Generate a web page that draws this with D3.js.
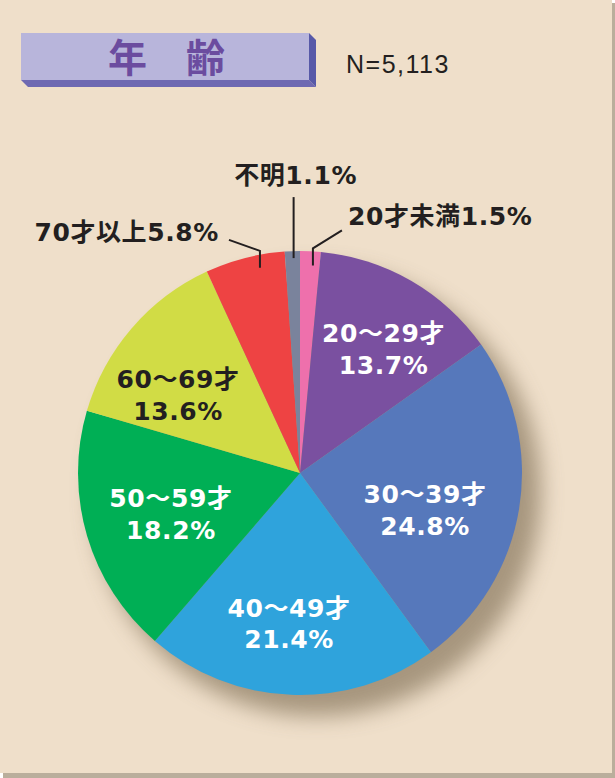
<!DOCTYPE html>
<html>
<head>
<meta charset="utf-8">
<script src="https://cdn.jsdelivr.net/npm/d3@7"></script>
<style>
    body { margin: 0; background: #ffffff; }
    svg { display: block; }
    text { font-family: "Liberation Sans", "Noto Sans CJK JP", sans-serif; }
    text.lbl { font-family: "DejaVu Sans", "Noto Sans CJK JP", sans-serif; }
</style>
</head>
<body>
<svg id="chart" width="615" height="778"></svg>
<script>
/**
 * Chart data
 */
var title = "年　齢";
var sampleSize = "N=5,113";
var categories = ["20才未満", "20～29才", "30～39才", "40～49才", "50～59才", "60～69才", "70才以上", "不明"];
var values = [1.5, 13.7, 24.8, 21.4, 18.2, 13.6, 5.8, 1.1];
var colors = ["#ee70ac", "#7a50a0", "#5678bb", "#2fa3dc", "#00af55", "#d1dc45", "#ee4343", "#7a839c"];

// which slices get an outside label with a leader line
var outside = ["20才未満", "70才以上", "不明"];

/**
 * Layout
 */
var width = 615, height = 778;
var cx = 300, cy = 473, radius = 222;
var labelR = 145;

// fine tuning of inside labels (block centre offset from centroid)
var nudge = {
    "20～29才": [11, 1],
    "30～39才": [-18, 13],
    "40～49才": [-5, 5],
    "50～59才": [10, -1],
    "60～69才": [-12, 16]
};
// leader lines: t = position within slice, r = start radius,
// rise = straight part, end = diagonal part, text offset from end
var leaders = {
    "20才未満": {t: 0.66, r: 208, rise: 17, end: [29, -18], anchor: "start", text: [6, -5]},
    "70才以上": {t: 0.66, r: 209, rise: 17, end: [-31, -11], anchor: "end", text: [-10, 1]},
    "不明":     {t: 0.57, r: 215, rise: 61, end: [0, 0], anchor: "middle", text: [2, -13]}
};

window.onload = function(){
    drawPanel();
    drawTitle();
    drawPie();
};

function drawPanel(){
    let svg = d3.select("#chart");
    svg.append("rect")
        .attr("x", 3).attr("y", 3)
        .attr("width", width - 3).attr("height", height - 3)
        .attr("fill", "#baae9c");
    svg.append("rect")
        .attr("x", 0).attr("y", 0)
        .attr("width", 612).attr("height", 773)
        .attr("fill", "#efdfca");
}

function drawTitle(){
    let svg = d3.select("#chart");
    let g = svg.append("g");
    let x0 = 21, y0 = 33, x1 = 309, y1 = 80, d = 7;

    g.append("polygon")
        .attr("points", [[x0, y1], [x1, y1], [x1 + d, y1 + d], [x0 + d, y1 + d]].join(" "))
        .attr("fill", "#6e69b2");
    g.append("polygon")
        .attr("points", [[x1, y0], [x1 + d, y0 + d], [x1 + d, y1 + d], [x1, y1]].join(" "))
        .attr("fill", "#5759a8");
    g.append("rect")
        .attr("x", x0).attr("y", y0)
        .attr("width", x1 - x0).attr("height", y1 - y0)
        .attr("fill", "#b8b5db");

    g.append("text")
        .attr("x", 108).attr("y", 72)
        .attr("fill", "#6b4c9f")
        .style("font-family", "'Noto Sans CJK JP', sans-serif")
        .style("font-size", "39px")
        .style("font-weight", "bold")
        .text(title);

    svg.append("text")
        .attr("x", 346).attr("y", 73)
        .attr("fill", "#231f20")
        .style("font-size", "25px")
        .style("letter-spacing", "1.5px")
        .text(sampleSize);
}

function drawPie(){
    let svg = d3.select("#chart");
    let data = categories.map(function(c, i){
        return {name: c, value: values[i], color: colors[i]};
    });

    // soft shadow behind the pie
    let defs = svg.append("defs");
    let filter = defs.append("filter")
        .attr("id", "blur")
        .attr("x", "-30%").attr("y", "-30%")
        .attr("width", "160%").attr("height", "160%");
    filter.append("feGaussianBlur").attr("stdDeviation", 11);

    svg.append("circle")
        .attr("cx", cx + 17).attr("cy", cy + 19)
        .attr("r", radius + 2)
        .attr("fill", "#94836a")
        .attr("opacity", 0.8)
        .attr("filter", "url(#blur)");

    let pie = d3.pie()
        .sort(null)
        .value(function(d){ return d.value; });
    let arcs = pie(data);

    let arc = d3.arc().innerRadius(0).outerRadius(radius);
    let labelArc = d3.arc().innerRadius(labelR).outerRadius(labelR);

    let g = svg.append("g").attr("transform", `translate(${cx},${cy})`);

    g.selectAll("path")
        .data(arcs)
        .enter()
        .append("path")
        .attr("d", arc)
        .attr("fill", function(d){ return d.data.color; });

    // inside labels
    let inside = arcs.filter(function(d){ return outside.indexOf(d.data.name) < 0; });
    let labels = g.selectAll("g.label")
        .data(inside)
        .enter()
        .append("g")
        .attr("class", "label")
        .attr("transform", function(d){
            let c = labelArc.centroid(d);
            let n = nudge[d.data.name] || [0, 0];
            return `translate(${c[0] + n[0]},${c[1] + n[1]})`;
        });

    labels.each(function(d){
        let sel = d3.select(this);
        let fill = d.data.name === "60～69才" ? "#231f20" : "#ffffff";
        sel.append("text")
            .attr("y", -6)
            .text(d.data.name);
        sel.append("text")
            .attr("y", 25.5)
            .text(d.data.value.toFixed(1) + "%");
        sel.selectAll("text")
            .attr("class", "lbl")
            .attr("text-anchor", "middle")
            .attr("fill", fill)
            .style("font-size", "25px")
            .style("font-weight", "bold")
            .style("letter-spacing", "0.6px");
    });

    // outside labels with leader lines
    arcs.filter(function(d){ return outside.indexOf(d.data.name) >= 0; })
        .forEach(function(d){
            let L = leaders[d.data.name];
            let a = d.startAngle + L.t * (d.endAngle - d.startAngle);
            let p0 = [L.r * Math.sin(a), -L.r * Math.cos(a)];
            let p1 = [p0[0], p0[1] - L.rise];
            let p2 = [p1[0] + L.end[0], p1[1] + L.end[1]];

            g.append("path")
                .attr("d", d3.line()([p0, p1, p2]))
                .attr("fill", "none")
                .attr("stroke", "#231f20")
                .attr("stroke-width", 2);

            g.append("text")
                .attr("class", "lbl")
                .attr("x", p2[0] + L.text[0])
                .attr("y", p2[1] + L.text[1])
                .attr("text-anchor", L.anchor)
                .attr("fill", "#231f20")
                .style("font-size", "25px")
                .style("font-weight", "bold")
                .style("letter-spacing", "0.6px")
                .text(d.data.name + d.data.value.toFixed(1) + "%");
        });
}
</script>
</body>
</html>
